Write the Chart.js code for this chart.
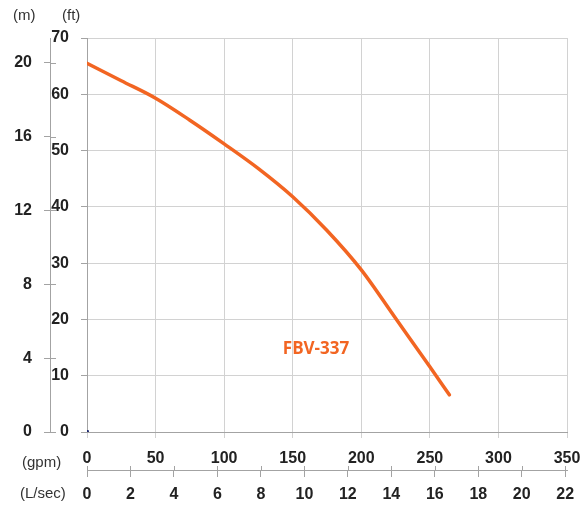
<!DOCTYPE html>
<html>
<head>
<meta charset="utf-8">
<title>FBV-337 pump curve</title>
<script src="https://cdn.jsdelivr.net/npm/chart.js@4.4.1/dist/chart.umd.min.js"></script>
<style>
  html, body { margin: 0; padding: 0; background: #fff; }
  #wrap { position: relative; width: 584px; height: 505px; }
  #pumpChart { position: absolute; left: 0; top: 0; }
  .unit {
    position: absolute;
    font: 15px "Liberation Sans", Arial, sans-serif;
    line-height: 18px;
    color: #333;
    white-space: nowrap;
  }
</style>
</head>
<body>
<div id="wrap">
  <canvas id="pumpChart" width="584" height="505"></canvas>
  <div class="unit" style="left:13px; top:6px;">(m)</div>
  <div class="unit" style="left:62px; top:6px;">(ft)</div>
  <div class="unit" style="left:22px; top:453px;">(gpm)</div>
  <div class="unit" style="left:20px; top:484px;">(L/sec)</div>
</div>

<script>
// Performance curve (flow in gpm, head in ft)
const modelName = 'FBV-337';
const flowGpm = [0, 25, 50, 75, 100, 125, 150, 175, 200, 225, 250, 264.2];
const headFt = [65.5, 62.4, 59.3, 55.4, 51.2, 46.8, 41.8, 35.8, 28.8, 20.2, 11.6, 6.6];
const originPoint = [0, 0];

// Axis ranges
const gpmRange = [0, 350];
const ftRange = [0, 70];
const GPM_PER_LPS = 15.850323;
const FT_PER_M = 3.28084;

// where the model name sits, in (gpm, ft)
const labelAt = [167, 14.7];

const lineColor = '#f26522';
const gridColor = '#d2d2d2';
const axisColor = '#a3a3a3';
const tickFont = { family: '"Liberation Sans", Arial, sans-serif', size: 16, weight: 'bold' };

const seriesLabel = {
    id: 'seriesLabel',
    afterDatasetsDraw(chart) {
        const { ctx, scales } = chart;
        ctx.save();
        ctx.font = 'bold 17px "Open Sans", sans-serif';
        ctx.fillStyle = lineColor;
        ctx.textAlign = 'center';
        ctx.textBaseline = 'middle';
        ctx.fillText(modelName, scales.x.getPixelForValue(labelAt[0]), scales.y.getPixelForValue(labelAt[1]));
        ctx.restore();
    }
};

// the secondary (m, L/sec) axes have ticks that cross their axis line
const crossTicks = {
    id: 'crossTicks',
    afterDraw(chart) {
        const { ctx, scales } = chart;
        const len = 6;
        ctx.save();
        ctx.strokeStyle = axisColor;
        ctx.lineWidth = 1;
        ctx.beginPath();
        scales.y2.ticks.forEach(t => {
            const py = Math.round(scales.y2.getPixelForValue(t.value)) + 0.5;
            ctx.moveTo(scales.y2.right, py);
            ctx.lineTo(scales.y2.right + len, py);
        });
        scales.x2.ticks.forEach(t => {
            const px = Math.round(scales.x2.getPixelForValue(t.value)) + 0.5;
            ctx.moveTo(px, scales.x2.top);
            ctx.lineTo(px, scales.x2.top - len + 2);
        });
        ctx.stroke();
        ctx.restore();
    }
};

const noSidePadding = (scale) => {
    scale.paddingLeft = 0;
    scale.paddingRight = 0;
};

const ctx = document.getElementById('pumpChart').getContext('2d');

new Chart(ctx, {
    type: 'line',
    data: {
        datasets: [
            {
                label: modelName,
                data: flowGpm.map((q, i) => ({ x: q, y: headFt[i] })),
                borderColor: lineColor,
                borderWidth: 3.5,
                borderCapStyle: 'round',
                pointRadius: 0,
                cubicInterpolationMode: 'monotone',
                xAxisID: 'x',
                yAxisID: 'y'
            },
            {
                label: 'origin',
                data: [{ x: originPoint[0], y: originPoint[1] }],
                showLine: false,
                pointRadius: 2,
                pointStyle: 'rect',
                backgroundColor: '#1d2a6e',
                borderColor: '#1d2a6e',
                xAxisID: 'x',
                yAxisID: 'y'
            }
        ]
    },
    options: {
        responsive: false,
        animation: false,
        layout: { padding: { top: 38, right: 17, bottom: 0, left: 0 } },
        plugins: {
            legend: { display: false },
            tooltip: { enabled: false }
        },
        scales: {
            x: {
                type: 'linear',
                position: 'bottom',
                min: gpmRange[0],
                max: gpmRange[1],
                grid: { color: gridColor, tickColor: gridColor, tickLength: 6 },
                border: { color: axisColor },
                ticks: { stepSize: 50, color: '#222', font: tickFont, padding: 11, maxRotation: 0 },
                afterFit: (scale) => { scale.height = 38; noSidePadding(scale); }
            },
            x2: {
                type: 'linear',
                position: 'bottom',
                min: gpmRange[0] / GPM_PER_LPS,
                max: gpmRange[1] / GPM_PER_LPS,
                grid: { drawOnChartArea: false, tickColor: axisColor, tickLength: 7 },
                border: { color: axisColor },
                ticks: { stepSize: 2, includeBounds: false, color: '#222', font: tickFont, padding: 8, maxRotation: 0 },
                afterFit: (scale) => { scale.height = 35; noSidePadding(scale); }
            },
            y: {
                type: 'linear',
                position: 'left',
                min: ftRange[0],
                max: ftRange[1],
                grid: { color: gridColor, tickColor: axisColor, tickLength: 6 },
                border: { color: axisColor },
                ticks: { stepSize: 10, color: '#222', font: tickFont, padding: 12 },
                afterFit: (scale) => { scale.width = 37; }
            },
            y2: {
                type: 'linear',
                position: 'left',
                min: ftRange[0] / FT_PER_M,
                max: ftRange[1] / FT_PER_M,
                grid: { drawOnChartArea: false, tickColor: axisColor, tickLength: 6 },
                border: { color: axisColor },
                ticks: { stepSize: 4, includeBounds: false, color: '#222', font: tickFont, padding: 12 },
                afterFit: (scale) => { scale.width = 50; }
            }
        }
    },
    plugins: [seriesLabel, crossTicks]
});
</script>
</body>
</html>
